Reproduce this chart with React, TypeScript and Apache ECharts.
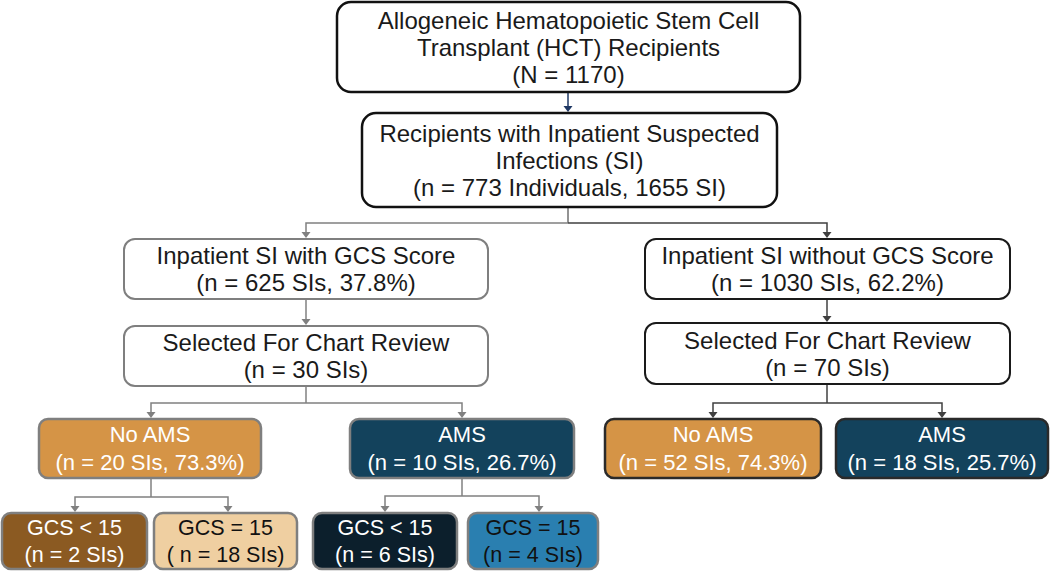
import React, { useEffect, useRef } from "react";
import * as echarts from "echarts";

// ---- Data: node texts ----
const nodeIds = [
  "hct", "si", "withGcs", "withoutGcs", "selWith", "selWithout",
  "noAmsL", "amsL", "noAmsR", "amsR", "gcsLtNo", "gcsEqNo", "gcsLtAms", "gcsEqAms",
];
const nodeText: string[][] = [
  ["Allogeneic Hematopoietic Stem Cell", "Transplant (HCT) Recipients", "(N = 1170)"],
  ["Recipients with Inpatient Suspected", "Infections (SI)", "(n = 773 Individuals, 1655 SI)"],
  ["Inpatient SI with GCS Score", "(n = 625 SIs, 37.8%)"],
  ["Inpatient SI without GCS Score", "(n = 1030 SIs, 62.2%)"],
  ["Selected For Chart Review", "(n = 30 SIs)"],
  ["Selected For Chart Review", "(n = 70 SIs)"],
  ["No AMS", "(n = 20 SIs, 73.3%)"],
  ["AMS", "(n = 10 SIs, 26.7%)"],
  ["No AMS", "(n = 52 SIs, 74.3%)"],
  ["AMS", "(n = 18 SIs, 25.7%)"],
  ["GCS < 15", "(n = 2 SIs)"],
  ["GCS = 15", "( n = 18 SIs)"],
  ["GCS < 15", "(n = 6 SIs)"],
  ["GCS = 15", "(n = 4 SIs)"],
];
// parent -> children links
const linkParents = ["hct", "si", "withGcs", "withoutGcs", "selWith", "selWithout", "noAmsL", "amsL"];
const linkChildren: string[][] = [
  ["si"], ["withGcs", "withoutGcs"], ["selWith"], ["selWithout"],
  ["noAmsL", "amsL"], ["noAmsR", "amsR"], ["gcsLtNo", "gcsEqNo"], ["gcsLtAms", "gcsEqAms"],
];

// ---- Layout (positions / sizes) ----
const boxLayout: Record<string, number[]> = {
  // x, y, w, h, radius, arrowX
  hct: [337, 2, 463, 90, 14, 568],
  si: [362, 113, 415, 94, 14, 568],
  withGcs: [124, 239, 364, 60, 11, 306],
  withoutGcs: [645, 239, 365, 60, 11, 827],
  selWith: [124, 326, 364, 60, 11, 306],
  selWithout: [645, 323, 365, 61, 11, 827],
  noAmsL: [39, 419, 222, 59, 9, 151],
  amsL: [350, 419, 224, 59, 9, 462],
  noAmsR: [605, 419, 216, 59, 9, 713],
  amsR: [836, 419, 212, 59, 9, 942],
  gcsLtNo: [2, 513, 145, 56, 9, 75],
  gcsEqNo: [154, 513, 143, 56, 9, 228],
  gcsLtAms: [313, 513, 144, 56, 9, 385],
  gcsEqAms: [468, 513, 130, 56, 9, 539],
};
const splitY: Record<string, number> = {
  si: 223, selWith: 403, selWithout: 403, noAmsL: 497, amsL: 496,
};

// ---- Styles ----
const boxStyle: Record<string, { fill: string; stroke: string; lw: number; color: string; fs: number; lh: number }> = {
  hct: { fill: "#ffffff", stroke: "#111111", lw: 2.5, color: "#1a1a1a", fs: 24, lh: 27 },
  si: { fill: "#ffffff", stroke: "#111111", lw: 2.5, color: "#1a1a1a", fs: 24, lh: 27 },
  withGcs: { fill: "#ffffff", stroke: "#7f7f7f", lw: 2, color: "#1a1a1a", fs: 24, lh: 27 },
  withoutGcs: { fill: "#ffffff", stroke: "#1a1a1a", lw: 2, color: "#1a1a1a", fs: 24, lh: 27 },
  selWith: { fill: "#ffffff", stroke: "#7f7f7f", lw: 2, color: "#1a1a1a", fs: 24, lh: 27 },
  selWithout: { fill: "#ffffff", stroke: "#1a1a1a", lw: 2, color: "#1a1a1a", fs: 24, lh: 27 },
  noAmsL: { fill: "#D59446", stroke: "#7f7f7f", lw: 2.5, color: "#ffffff", fs: 22, lh: 28 },
  amsL: { fill: "#13425C", stroke: "#7f7f7f", lw: 2.5, color: "#ffffff", fs: 22, lh: 28 },
  noAmsR: { fill: "#D59446", stroke: "#2a2a2a", lw: 2.5, color: "#ffffff", fs: 22, lh: 28 },
  amsR: { fill: "#13425C", stroke: "#2a2a2a", lw: 2.5, color: "#ffffff", fs: 22, lh: 28 },
  gcsLtNo: { fill: "#8B5A22", stroke: "#7f7f7f", lw: 2.5, color: "#ffffff", fs: 21.5, lh: 27 },
  gcsEqNo: { fill: "#EFCFA1", stroke: "#7f7f7f", lw: 2.5, color: "#111111", fs: 21.5, lh: 27 },
  gcsLtAms: { fill: "#0C1F2C", stroke: "#7f7f7f", lw: 2.5, color: "#ffffff", fs: 21.5, lh: 27 },
  gcsEqAms: { fill: "#2A7FB0", stroke: "#7f7f7f", lw: 2.5, color: "#111111", fs: 21.5, lh: 27 },
};
const linkColor: Record<string, string> = {
  hct: "#1F3864", si: "#6f6f6f", withGcs: "#808080", withoutGcs: "#404040",
  selWith: "#808080", selWithout: "#404040", noAmsL: "#808080", amsL: "#808080",
};
const childLinkColor: Record<string, string> = {
  withGcs: "#808080", withoutGcs: "#404040",
};
const FONT = "'Liberation Sans', Arial, sans-serif";

function buildGraphic() {
  const els: any[] = [];
  // links
  linkParents.forEach((p, i) => {
    const [px, py, pw, ph, , pax] = boxLayout[p];
    const pBottom = py + ph;
    const kids = linkChildren[i];
    const baseColor = linkColor[p];
    const arrowH = 7;
    const arrowW = 4.5;
    if (kids.length === 1) {
      const c = kids[0];
      const cTop = boxLayout[c][1];
      els.push({
        type: "line", silent: true,
        shape: { x1: pax, y1: pBottom, x2: pax, y2: cTop - arrowH },
        style: { stroke: baseColor, lineWidth: 1.5 },
      });
      els.push({
        type: "polygon", silent: true,
        shape: { points: [[pax - arrowW, cTop - arrowH], [pax + arrowW, cTop - arrowH], [pax, cTop - 1]] },
        style: { fill: baseColor },
      });
    } else {
      const my = splitY[p];
      els.push({
        type: "line", silent: true,
        shape: { x1: pax, y1: pBottom, x2: pax, y2: my },
        style: { stroke: baseColor, lineWidth: 1.5 },
      });
      kids.forEach((c) => {
        const [, cy, , , , cax] = boxLayout[c];
        const col = childLinkColor[c] || baseColor;
        els.push({
          type: "polyline", silent: true,
          shape: { points: [[pax, my], [cax, my], [cax, cy - arrowH]] },
          style: { stroke: col, lineWidth: 1.5, fill: null },
        });
        els.push({
          type: "polygon", silent: true,
          shape: { points: [[cax - arrowW, cy - arrowH], [cax + arrowW, cy - arrowH], [cax, cy - 1]] },
          style: { fill: col },
        });
      });
    }
  });
  // boxes
  nodeIds.forEach((id, i) => {
    const [x, y, w, h, r] = boxLayout[id];
    const st = boxStyle[id];
    els.push({
      type: "rect", silent: true,
      shape: { x, y, width: w, height: h, r },
      style: { fill: st.fill, stroke: st.stroke, lineWidth: st.lw },
    });
    const lines = nodeText[i];
    const cx = x + w / 2;
    const cy = y + h / 2;
    lines.forEach((t, k) => {
      const ty = cy + (k - (lines.length - 1) / 2) * st.lh;
      els.push({
        type: "text", silent: true,
        style: {
          text: t, x: cx, y: ty,
          textAlign: "center", align: "center",
          textVerticalAlign: "middle", verticalAlign: "middle",
          font: `${st.fs}px ${FONT}`,
          fill: st.color,
        },
      });
    });
  });
  return els;
}

export default function App() {
  const ref = useRef<HTMLDivElement>(null);
  useEffect(() => {
    document.body.style.margin = "0";
    if (!ref.current) return;
    const chart = echarts.init(ref.current, undefined, { renderer: "svg" });
    chart.setOption({
      animation: false,
      backgroundColor: "#ffffff",
      graphic: { elements: buildGraphic() },
    });
    return () => chart.dispose();
  }, []);
  return <div ref={ref} style={{ width: 1050, height: 573 }} />;
}
